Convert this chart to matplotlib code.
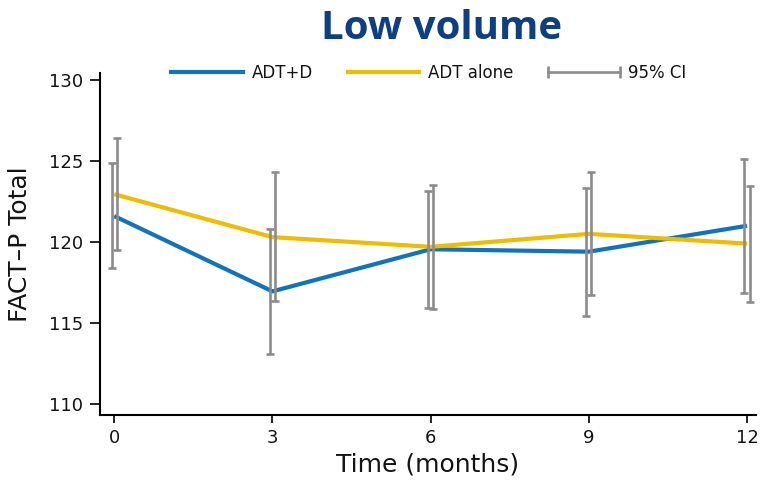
import numpy as np
import matplotlib
matplotlib.use("Agg")
from matplotlib import pyplot as plt
from matplotlib.lines import Line2D
from matplotlib.legend_handler import HandlerLine2D

# values
months = [0, 3, 6, 9, 12]
adtd_mean = [121.6, 116.95, 119.55, 119.4, 121.0]
adtd_lo = [118.4, 113.1, 115.95, 115.45, 116.85]
adtd_hi = [124.85, 120.8, 123.15, 123.35, 125.15]
adt_mean = [122.95, 120.3, 119.7, 120.5, 119.9]
adt_lo = [119.5, 116.35, 115.85, 116.75, 116.3]
adt_hi = [126.4, 124.3, 123.5, 124.3, 123.45]
yticks = [110, 115, 120, 125, 130]

blue = '#1273bd'
yellow = '#eebc00'
grey = '#8c8c8c'
ink = '#141414'

fig = plt.figure(figsize=(7.68, 4.91), dpi=100)
ax = fig.add_axes([0.1302, 0.1548, 0.8538, 0.6972])

x = np.array(months, dtype=float)
ax.plot(x, adtd_mean, color=blue, lw=3, solid_capstyle='butt', zorder=2)
ax.plot(x, adt_mean, color=yellow, lw=3, solid_capstyle='butt', zorder=2)

for off, m, lo, hi in [(-0.05, adtd_mean, adtd_lo, adtd_hi),
                       (0.05, adt_mean, adt_lo, adt_hi)]:
    m = np.array(m)
    err = [m - np.array(lo), np.array(hi) - m]
    ax.errorbar(x + off, m, yerr=err, fmt='none', ecolor=grey,
                elinewidth=1.9, capsize=3, capthick=1.9, zorder=3)

ax.set_xlim(-0.27, 12.165)
ax.set_ylim(109.32, 130.45)
ax.set_xticks(months)
ax.set_yticks(yticks)

for s in ['top', 'right']:
    ax.spines[s].set_visible(False)
for s in ['left', 'bottom']:
    ax.spines[s].set_linewidth(1.5)
    ax.spines[s].set_color('black')

ax.tick_params(axis='y', direction='out', length=7, width=1.2,
               labelsize=13, pad=5, labelcolor=ink)
ax.tick_params(axis='x', direction='out', length=6, width=1.2,
               labelsize=13, pad=4, labelcolor=ink)

ax.set_xlabel('Time (months)', fontsize=18, color=ink, labelpad=4)
ax.set_ylabel('FACT\u2013P Total', fontsize=18, color=ink, labelpad=12)

h_ci = Line2D([], [], color=grey, lw=1.9, marker='|', markersize=8,
              markeredgewidth=1.9)
handles = [Line2D([], [], color=blue, lw=3),
           Line2D([], [], color=yellow, lw=3),
           h_ci]
leg = ax.legend(handles, ['ADT+D', 'ADT alone', '95% CI'],
                loc='center', bbox_to_anchor=(0.5015, 0.999), ncol=3,
                frameon=False, fontsize=12, handlelength=4.3,
                handletextpad=0.5, columnspacing=2.1,
                handler_map={h_ci: HandlerLine2D(numpoints=2, marker_pad=0)})
for t in leg.get_texts():
    t.set_color(ink)

fig.text(0.575, 0.941, 'Low volume', ha='center', va='center',
         fontsize=29, fontweight='bold', family='Open Sans', color='#0e3f80')

fig.savefig('out.png', dpi=100)
